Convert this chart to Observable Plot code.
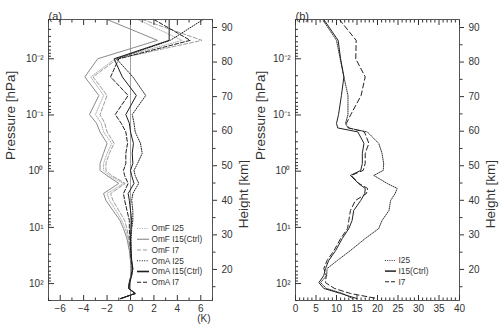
<!DOCTYPE html>
<html><head><meta charset="utf-8">
<script src="https://cdn.jsdelivr.net/npm/d3@7"></script>
<script src="https://cdn.jsdelivr.net/npm/@observablehq/plot@0.6"></script>
<style>
body{margin:0;background:#fff;}
#wrap{position:relative;width:500px;height:329px;display:flex;font-family:"Liberation Sans",Arial,sans-serif;background:#fff;}
#wrap svg{display:block}
#leg{position:absolute;left:0;top:0;pointer-events:none}
</style></head><body><div id="wrap"></div>
<script>
// ---------- data (panel a: OmF / OmA mean, K) ----------
const levelsA = [0.002,0.0047,0.01,0.021,0.045,0.098,0.14,0.2,0.32,0.48,0.73,0.97,1.2,1.65,2.5,3.3,5,7.5,10.5,16,26,39,54,72,96,122,150,185];
const omfI25 = [0.6,4.4,-1.3,-3.4,-2.3,-3.0,-2.5,-2.3,-1.6,-2.0,-2.3,-2.3,-1.8,-0.6,-2.0,-1.8,-1.25,-0.75,-0.45,-0.2,-0.05,0.0,0.1,0.05,-0.1,-0.15,0.4,-0.8];
const omfI15 = [-2.0,2.3,-2.8,-3.9,-2.7,-3.5,-2.9,-2.6,-2.0,-2.3,-2.6,-2.6,-2.0,-1.0,-2.3,-2.1,-1.5,-0.9,-0.6,-0.3,-0.1,0.0,0.1,0.05,-0.1,-0.15,0.4,-0.8];
const omfI7  = [1.0,6.1,-1.1,-3.2,-2.0,-2.6,-2.2,-2.0,-1.4,-1.8,-2.1,-2.1,-1.6,-0.45,-1.7,-1.5,-1.0,-0.5,-0.3,-0.15,0.0,0.05,0.15,0.05,-0.1,-0.15,0.4,-0.8];
const omaI25 = [6.2,3.4,-1.2,0.2,1.3,0.15,0.3,0.4,0.85,1.0,0.6,0.3,0.4,0.7,0.2,0.1,0.2,0.2,0.1,0.05,0.05,0.1,0.2,0.1,-0.05,-0.15,0.4,-0.85];
const omaI15 = [3.3,3.3,-1.4,-0.7,0.5,-0.4,-0.1,0.0,0.25,0.15,0.2,0.0,0.1,0.3,-0.2,-0.1,0.0,0.1,0.05,0.0,0.05,0.1,0.2,0.1,-0.1,-0.15,0.4,-0.85];
const omaI7  = [2.0,5.1,-1.0,-1.7,-0.2,-1.3,-0.8,-0.4,-0.25,-0.4,-0.4,-0.6,-0.5,-0.2,-0.6,-0.5,-0.3,-0.1,-0.1,-0.05,0.0,0.05,0.15,0.05,-0.1,-0.15,0.4,-0.85];

// ---------- data (panel b: std dev) ----------
const levelsB = [0.002,0.0047,0.01,0.021,0.045,0.098,0.142,0.17,0.2,0.32,0.48,0.73,0.97,1.19,1.66,2.03,2.5,3.33,5,7.55,10.5,15.8,25.8,38.9,54,72,96,122,150,185];
const sdI25 = [6.6,10.0,10.9,11.8,12.8,12.8,12.2,12.8,17.5,20.3,21.1,21.5,21.4,19.1,22.4,24.8,24.3,23.2,22.8,21.1,20.3,17.0,13.4,10.2,7.7,7.6,6.1,7.5,11.5,14.0];
const sdI15 = [6.9,10.4,11.0,11.8,11.2,10.5,10.0,10.3,15.2,16.7,16.3,16.3,15.9,13.4,15.4,17.0,16.9,15.9,14.2,13.8,13.0,11.4,9.8,8.1,7.3,6.9,5.7,6.9,11.0,15.0];
const sdI7  = [10.7,14.8,14.7,17.0,16.0,13.5,12.4,13.0,16.8,17.9,17.0,17.0,16.5,13.6,15.5,17.6,17.3,14.6,13.4,13.0,12.7,11.0,9.4,7.7,6.9,7.5,7.3,9.5,13.4,20.0];

// ---------- ticks / labels ----------
const xTicksA = [-6,-4,-2,0,2,4,6];
const xMinorA = [-7,-5,-3,-1,1,3,5,7];
const xTicksB = [0,5,10,15,20,25,30,35,40];
const pTicks = [0.01,0.1,1,10,100];
const pLabels = ["10\u207B\u00B2","10\u207B\u00B9","10\u2070","10\u00B9","10\u00B2"];
const hTicks = [20,30,40,50,60,70,80,90];
const hMinor = [15,25,35,45,55,65,75,85];
const legendA = ["OmF I25","OmF I15(Ctrl)","OmF I7","OmA I25","OmA I15(Ctrl)","OmA I7"];
const legendB = ["I25","I15(Ctrl)","I7"];

// height <-> pressure relation used for the right-hand axis
const pRef = 56, hRef = 20, kmPerDecade = 16.26;
const hToP = h => pRef * Math.pow(10, -(h - hRef) / kmPerDecade);

const pMinor = [];
for (let k = -3; k <= 2; k++) for (let m = 2; m <= 9; m++) { const v = m * Math.pow(10, k); if (v >= 0.002 && v <= 200) pMinor.push(v); }

const ink = "#333";
const grayS = "#8a8a8a", grayL = "#ababab", blk = "#1e1e1e";
const styles = {
  I25a: {stroke: grayL, dash: "1,1.4", w: 1},
  I15a: {stroke: grayS, dash: null, w: 1},
  I7a:  {stroke: "#9c9c9c", dash: "4,2", w: 1},
  I25b: {stroke: blk, dash: "1,1.4", w: 1},
  I15b: {stroke: blk, dash: null, w: 1},
  I7b:  {stroke: blk, dash: "4,2", w: 1}
};
const stylesB = [
  {stroke: "#333", dash: "1,1.2", w: 1},
  {stroke: "#222", dash: null, w: 1},
  {stroke: "#222", dash: "5,3", w: 1}
];

function panel({levels, series, xDomain, xMajor, xMinor, marginLeft, marginRight, tag, zero, unit}) {
  const marks = [];
  if (zero) marks.push(Plot.ruleX([0], {stroke: "#8a8a8a", strokeWidth: 0.8}));
  for (const s of series) {
    marks.push(Plot.line(levels, {x: s.values, y: levels, stroke: s.stroke, strokeWidth: s.w, strokeDasharray: s.dash}));
  }
  marks.push(Plot.frame({stroke: "#555"}));
  const minus = d => d < 0 ? "\u2212" + (-d) : String(d);
  marks.push(Plot.axisX({anchor: "bottom", ticks: xMajor, tickSize: -5, tickPadding: 9, tickFormat: minus, label: null, fontSize: 10}));
  marks.push(Plot.axisX({anchor: "bottom", ticks: xMinor, tickSize: -2.5, tickFormat: () => "", label: null}));
  marks.push(Plot.axisX({anchor: "top", ticks: xMajor, tickSize: -5, tickFormat: () => "", label: null}));
  marks.push(Plot.axisX({anchor: "top", ticks: xMinor, tickSize: -2.5, tickFormat: () => "", label: null}));
  marks.push(Plot.axisY({anchor: "left", ticks: pTicks, tickSize: -6, tickPadding: 11, tickFormat: d => pLabels[pTicks.indexOf(d)], label: null, fontSize: 10}));
  marks.push(Plot.axisY({anchor: "left", ticks: pMinor, tickSize: -3, tickFormat: () => "", label: null}));
  marks.push(Plot.axisY({anchor: "right", ticks: hTicks.map(hToP), tickSize: 4, tickFormat: () => "", label: null}));
  marks.push(Plot.axisY({anchor: "right", ticks: hMinor.map(hToP), tickSize: 2.5, tickFormat: () => "", label: null}));
  marks.push(Plot.text(hTicks, {y: d => hToP(d), text: d => String(d), frameAnchor: "right", dx: 9, textAnchor: "start", fontSize: 10, fill: ink}));
  marks.push(Plot.text([tag], {text: d => d, frameAnchor: "top-left", dy: -7, textAnchor: "start", fontSize: 11}));
  marks.push(Plot.text(["Pressure [hPa]"], {text: d => d, frameAnchor: "left", dx: -(marginLeft - 10), rotate: -90, fontSize: 13.5}));
  marks.push(Plot.text(["Height [km]"], {text: d => d, frameAnchor: "right", dx: 31, rotate: -90, fontSize: 13.5}));
  if (unit) marks.push(Plot.text([unit], {text: d => d, frameAnchor: "bottom-right", dx: -2, dy: 21, fontSize: 10}));
  return Plot.plot({
    width: 250, height: 329, marginTop: 19, marginBottom: 29, marginLeft, marginRight,
    x: {domain: xDomain},
    y: {type: "log", domain: [0.002, 200], reverse: true},
    style: {fontFamily: "Liberation Sans, Arial, sans-serif", fontSize: "10px", color: ink, background: "white", overflow: "visible"},
    marks
  });
}

const seriesA = [
  {values: omfI25, ...styles.I25a},
  {values: omfI15, ...styles.I15a},
  {values: omfI7, ...styles.I7a},
  {values: omaI25, ...styles.I25b},
  {values: omaI15, ...styles.I15b},
  {values: omaI7, ...styles.I7b}
];
const seriesB = [
  {values: sdI25, ...stylesB[0]},
  {values: sdI15, ...stylesB[1]},
  {values: sdI7, ...stylesB[2]}
];

const wrap = document.getElementById("wrap");
wrap.appendChild(panel({levels: levelsA, series: seriesA, xDomain: [-7, 7], xMajor: xTicksA, xMinor: xMinorA, marginLeft: 48, marginRight: 38, tag: "(a)", zero: true, unit: "(K)"}));
wrap.appendChild(panel({levels: levelsB, series: seriesB, xDomain: [0, 40], xMajor: xTicksB, xMinor: d3.range(0, 41).filter(v => v % 5 !== 0), marginLeft: 45, marginRight: 41, tag: "(b)", zero: false, unit: null}));

// ---------- legends (overlay) ----------
const leg = d3.select(wrap).append("svg").attr("id", "leg").attr("width", 500).attr("height", 329)
  .style("font-family", "Liberation Sans, Arial, sans-serif").style("font-size", "8.3px");
const legA = [styles.I25a, styles.I15a, styles.I7a, styles.I25b, styles.I15b, styles.I7b];
legendA.forEach((t, i) => {
  const y = 228.5 + i * 10.75;
  const s = legA[i];
  leg.append("line").attr("x1", 137).attr("x2", 149).attr("y1", y).attr("y2", y)
    .attr("stroke", s.stroke).attr("stroke-width", i === 4 ? 1.6 : 1.1).attr("stroke-dasharray", s.dash);
  leg.append("text").attr("x", 151.5).attr("y", y).attr("dy", "0.35em").attr("fill", ink).text(t);
});
legendB.forEach((t, i) => {
  const y = 260.5 + i * 10.6;
  const s = stylesB[i];
  leg.append("line").attr("x1", 385).attr("x2", 396).attr("y1", y).attr("y2", y)
    .attr("stroke", s.stroke).attr("stroke-width", i === 1 ? 1.5 : 1.1).attr("stroke-dasharray", s.dash === "5,3" ? "4,2" : s.dash);
  leg.append("text").attr("x", 398.5).attr("y", y).attr("dy", "0.35em").attr("fill", ink).text(t);
});
</script></body></html>
